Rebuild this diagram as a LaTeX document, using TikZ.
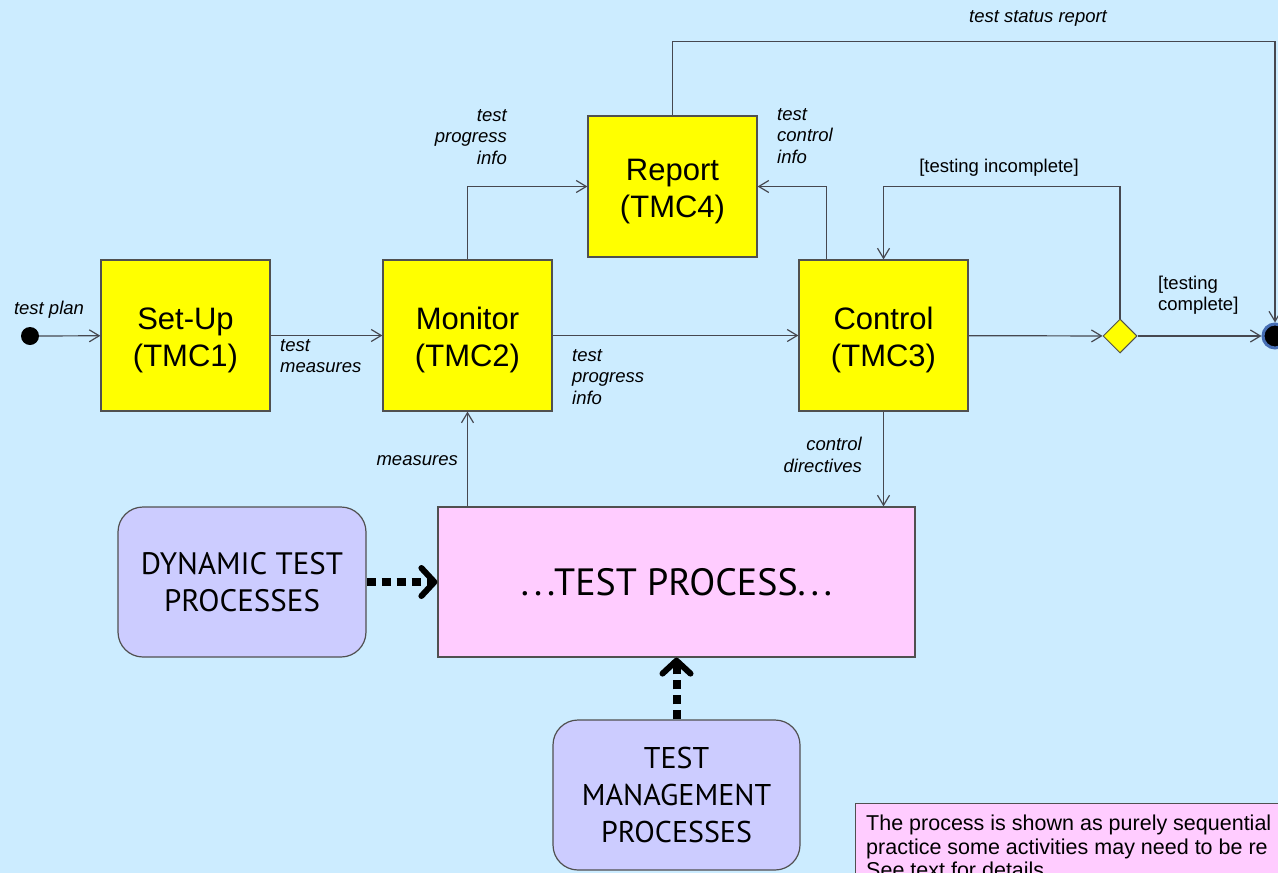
\documentclass[tikz,border=0pt]{standalone}
\usepackage{fontspec}
\setmainfont{Liberation Sans}
\newfontfamily\capsfont{PT Sans}
\usetikzlibrary{arrows.meta,shapes.geometric}
\definecolor{bgc}{RGB}{204,236,255}
\definecolor{ylw}{RGB}{255,255,0}
\definecolor{pnk}{RGB}{255,204,255}
\definecolor{lav}{RGB}{204,204,255}
\definecolor{linec}{RGB}{70,72,80}
\definecolor{bordc}{RGB}{80,80,80}
\definecolor{endblue}{RGB}{70,110,180}
\newcommand{\tmcstrut}{\rule{0pt}{31pt}}
\tikzset{
  tmc/.style={draw=bordc, line width=1.2pt, fill=ylw, minimum width=169pt, minimum height=151pt, inner sep=0pt, align=center, font=\fontsize{31}{37}\selectfont},
  procbox/.style={draw=bordc, line width=1.2pt, fill=lav, rounded corners=25pt, minimum width=248pt, minimum height=150pt, inner sep=0pt, align=center, font=\capsfont\fontsize{31}{36.5}\selectfont},
  lbl/.style={inner sep=0pt, font=\itshape\fontsize{18.5}{21.5}\selectfont},
  guard/.style={inner sep=0pt, font=\fontsize{18.5}{21.5}\selectfont},
  conn/.style={draw=linec, line width=1.2pt, -{Straight Barb[length=10pt,width=12pt,line width=1.2pt]}},
  bigdot/.style={draw=black, line width=8pt, dash pattern=on 9pt off 6pt, -{Straight Barb[length=13pt,width=28pt,line width=6pt,round]}}
}
\begin{document}
\begin{tikzpicture}[x=1pt,y=1pt]
\useasboundingbox (0,0) rectangle (1278,-873);
\clip (0,0) rectangle (1278,-873);
\fill[bgc] (0,0) rectangle (1278,-873);

% nodes
\node[circle, fill=black, minimum size=18pt, inner sep=0pt] (start) at (30,-336) {};
\node[tmc] (setup) at (185.5,-335.5) {\tmcstrut Set-Up\\(TMC1)};
\node[tmc] (monitor) at (467.5,-335.5) {\tmcstrut Monitor\\(TMC2)};
\node[tmc] (control) at (883.5,-335.5) {\tmcstrut Control\\(TMC3)};
\node[tmc, minimum height=141pt] (report) at (672.5,-186.5) {\tmcstrut Report\\(TMC4)};
\node[diamond, draw=bordc, line width=1pt, fill=ylw, minimum width=34pt, minimum height=34pt, inner sep=0pt] (diam) at (1120,-336) {};
\node[circle, fill=black, draw=endblue, line width=3pt, minimum size=24pt, inner sep=0pt] (endn) at (1275,-336) {};
\node[draw=bordc, line width=1.2pt, fill=pnk, minimum width=477pt, minimum height=150pt, inner sep=0pt, font=\capsfont\fontsize{38}{40}\selectfont] (tp) at (676.5,-582) {.\hspace{5pt}.\hspace{5pt}.TEST PROCESS.\hspace{5pt}.\hspace{5pt}.};
\node[procbox] (dyn) at (242,-582) {DYNAMIC TEST\\PROCESSES};
\node[procbox, minimum width=247pt, font=\capsfont\fontsize{30}{37}\selectfont] (mgmt) at (676.5,-795) {TEST\\MANAGEMENT\\PROCESSES};
\node[draw=bordc, line width=1.2pt, fill=pnk, minimum width=440pt, minimum height=90pt, anchor=north west, inner sep=0pt] (note) at (855,-803) {};
\node[anchor=north west, inner sep=0pt, align=left, font=\fontsize{21.5}{23.5}\selectfont] (notetext) at (866,-815) {The process is shown as purely sequential\\practice some activities may need to be re\\See text for details.};

% labels
\node[lbl] (lplan) at (49,-310) {test plan};
\node[lbl, anchor=west, align=left] (lmeas) at (280,-356) {test\\measures};
\node[lbl, anchor=west, align=left] (lprog1) at (572,-377) {test\\progress\\info};
\node[lbl, anchor=east, align=right] (lprog2) at (507,-137) {test\\progress\\info};
\node[lbl, anchor=west, align=left] (lctrl) at (777,-136) {test\\control\\info};
\node[lbl] (lstatus) at (1038,-18) {test status report};
\node[guard] (lincomp) at (999,-168) {[testing incomplete]};
\node[guard, anchor=west, align=left] (lcomp) at (1158,-295) {[testing\\complete]};
\node[lbl, anchor=east] (lmeasures) at (458,-461) {measures};
\node[lbl, anchor=east, align=right] (ldir) at (862,-455) {control\\directives};

% connectors
\draw[conn] (start) -- (setup);
\draw[conn] (setup) -- (monitor);
\draw[conn] (monitor) -- (control);
\draw[conn] (control) -- (diam);
\draw[conn] (diam) -- (endn);
\draw[conn] (monitor.north) |- (report.west);
\draw[conn] ([xshift=28pt]control.north west) |- (report.east);
\draw[conn] (report.north) -- ++(0,74) -| (endn.north);
\draw[conn] (diam.north) -- ++(0,132) -| (control.north);
\draw[conn] (tp.north -| monitor.south) -- (monitor.south);
\draw[conn] (control.south) -- (control.south |- tp.north);
\draw[bigdot] (dyn.east) -- (tp.west);
\draw[bigdot] (mgmt.north) -- (tp.south);
\end{tikzpicture}
\end{document}
